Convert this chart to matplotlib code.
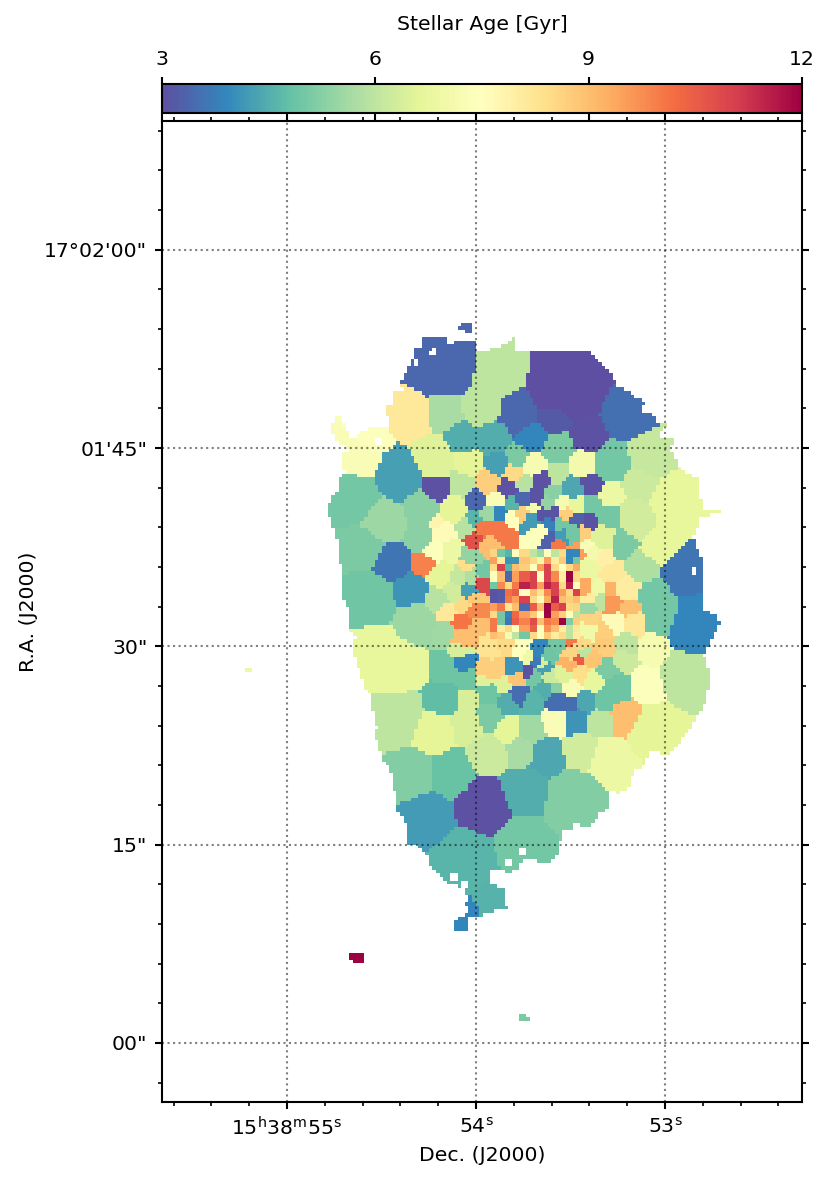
import numpy as np
import matplotlib
matplotlib.use("Agg")
import matplotlib.pyplot as plt
from matplotlib.path import Path

# Voronoi bins of the map, in map pixels: centre, size, age in Gyr
bin_x = [440, 498, 410, 443, 482, 462, 492, 533, 517, 360, 372, 398, 433, 467, 435, 460, 487, 497, 517, 513,
         507, 523, 475, 495, 510, 523, 355, 383, 420, 452, 438, 463, 473, 487, 498, 510, 522, 483, 500,
         568, 557, 588, 627, 558, 650, 640, 612, 582, 533, 558, 542, 572, 592, 612, 553, 535, 592, 562, 575,
         548, 533, 610, 635, 677, 543, 553, 566, 577, 590, 548, 530, 560,
         363, 370, 420, 393, 423, 408, 415, 437, 440, 452, 433, 442, 468, 465, 457, 470, 468, 453, 445, 462,
         473, 473, 462, 475, 442, 463, 473, 486, 481, 482,
         393, 377, 443, 463, 467, 440, 467, 395, 487, 497, 483, 488, 505, 488, 518, 512, 528, 517, 502, 432, 467, 460,
         683, 693, 660, 652, 642, 623, 660, 635, 603, 628, 610, 613, 630, 635, 615, 612, 603, 590, 595, 587,
         578, 585, 548, 556, 563, 540, 572, 583, 598, 600, 588, 588, 590, 590, 603, 570, 580, 627, 653, 603,
         560, 570, 582, 580, 568, 592, 607, 580, 607, 623, 592, 618, 647, 683, 603, 585, 558, 572, 575, 627,
         600, 555, 572, 545, 555, 533, 532, 563, 550, 542, 547, 537, 538, 545, 527, 505, 520, 490, 653,
         488, 520, 505, 532, 547, 580, 610, 410, 452, 483, 523, 575, 427, 463, 520, 488, 470, 458,
         460, 357, 524, 248]
bin_y = [363, 370, 413, 410, 405, 438, 437, 438, 412, 460, 441, 477, 460, 463, 487, 483, 483, 463, 457, 473,
         488, 483, 500, 500, 503, 498, 497, 520, 508, 510, 523, 525, 517, 513, 512, 517, 513, 528, 530,
         385, 415, 435, 413, 448, 457, 483, 463, 463, 465, 472, 480, 487, 485, 495, 492, 497, 507, 502, 505,
         503, 508, 517, 517, 500, 513, 513, 513, 520, 522, 524, 520, 524,
         547, 600, 538, 563, 563, 590, 623, 600, 575, 550, 550, 530, 555, 567, 578, 577, 592, 592, 612, 605,
         598, 612, 622, 625, 632, 638, 543, 545, 583, 573,
         667, 647, 670, 663, 680, 700, 700, 715, 670, 667, 680, 695, 703, 717, 693, 667, 675, 680, 687, 730, 725, 650,
         570, 627, 617, 597, 567, 542, 547, 527, 537, 590, 590, 603, 607, 623, 623, 573, 557, 570, 553, 545,
         552, 533, 540, 543, 535, 533, 533, 588, 588, 600, 610, 600, 618, 630, 632, 642, 645, 643, 648, 645,
         645, 653, 652, 660, 665, 660, 650, 675, 670, 660, 682, 690, 687, 677, 702, 702, 703, 705, 720, 717,
         720, 722, 688, 690, 688, 702, 678, 675, 677, 663, 657, 653, 662, 668, 655, 645, 650, 650, 730,
         755, 753, 732, 730, 757, 753, 763, 777, 777, 808, 792, 800, 820, 857, 843, 898, 908, 925,
         326, 957, 1017, 670]
bin_r = [35, 25, 22, 19, 20, 15, 15, 14, 19, 20, 14, 24, 20, 13, 15, 12, 11, 10, 10, 9,
         9, 8, 9, 8, 6, 7, 25, 22, 18, 14, 10, 8, 7, 6, 6, 5, 5, 6, 6,
         38, 18, 18, 25, 16, 24, 20, 20, 14, 11, 11, 9, 10, 11, 13, 8, 7, 9, 7, 7,
         6, 5, 12, 19, 28, 5, 5, 6, 6, 8, 5, 5, 5,
         20, 25, 15, 18, 12, 17, 20, 12, 12, 10, 12, 12, 9, 6, 9, 6, 7, 10, 10, 7,
         5, 6, 8, 5, 10, 9, 7, 5, 5, 5,
         30, 22, 12, 9, 10, 17, 11, 28, 9, 7, 7, 10, 9, 13, 8, 6, 5, 6, 6, 20, 15, 8,
         20, 25, 18, 16, 15, 13, 18, 12, 12, 12, 7, 8, 10, 12, 9, 10, 8, 7, 7, 6,
         5, 7, 5, 4, 5, 6, 7, 7, 6, 6, 6, 5, 6, 7, 8, 5, 6, 10, 14, 7,
         4, 6, 5, 5, 6, 7, 7, 8, 9, 10, 9, 13, 16, 23, 10, 11, 10, 7, 12, 17,
         12, 12, 8, 7, 6, 8, 6, 7, 6, 5, 4, 4, 4, 5, 4, 6, 6, 7, 25,
         18, 14, 11, 11, 17, 17, 22, 24, 22, 29, 24, 29, 28, 32, 26, 14, 7, 8,
         6, 6, 5, 5]
bin_age = [3.4, 6.0, 8.1, 5.7, 6.0, 4.5, 4.5, 3.9, 3.4, 7.3, 7.4, 4.3, 6.5, 6.6, 3.05, 6.0, 8.7, 4.3, 5.1, 8.5,
           3.05, 5.9, 3.4, 7.3, 4.6, 3.4, 5.0, 5.5, 5.3, 6.6, 7.8, 5.9, 4.6, 5.5, 3.9, 7.5, 8.7, 10, 10,
           3.0, 3.2, 3.05, 3.55, 5.1, 6.1, 6.2, 5.0, 7.1, 7.2, 6.0, 3.05, 4.4, 3.1, 6.9, 5.3, 3.1, 5.0, 7.2, 6.7,
           5.4, 7.1, 5.0, 6.3, 6.7, 3.1, 3.1, 8.7, 3.3, 3.1, 3.8, 4.2, 5.0,
           5.1, 4.95, 5.3, 3.6, 9.9, 4.1, 5.5, 5.9, 6.6, 6.9, 7.4, 7.6, 5.4, 8.4, 6.1, 5.8, 4.3, 6.3, 8.1, 8.5,
           8.8, 9.8, 10.1, 9.0, 5.6, 9.0, 10.7, 9.0, 10.9, 5.0,
           6.7, 6.7, 4.9, 3.9, 4.9, 4.75, 6.4, 6.0, 8.7, 8.7, 6.5, 4.9, 4.5, 5.1, 3.5, 4.1, 3.1, 8.9, 6.5, 6.6, 6.4, 6.4,
           3.6, 3.9, 5.0, 5.0, 5.8, 5.1, 6.7, 6.3, 6.5, 8.0, 9.2, 9.6, 9.0, 8.2, 7.6, 8.1, 7.9, 6.8, 7.1, 7.3,
           9.5, 8.7, 3.3, 10, 4.2, 7.4, 5.0, 9.3, 7.0, 6.0, 5.5, 8.0, 8.6, 7.0, 8.7, 10, 8.5, 6.0, 7.2, 8.8,
           5.0, 8.6, 6.0, 10.5, 9.2, 8.9, 8.7, 8.4, 5.1, 6.2, 6.7, 4.9, 7.4, 6.0, 4.9, 4.4, 3.5, 3.5, 4.1, 9.0,
           6.0, 7.3, 7.3, 4.5, 5.3, 4.6, 5.0, 6.5, 6.2, 6.4, 4.9, 3.9, 3.7, 4.3, 7.0, 8.5, 7.5, 8.3, 6.6,
           6.2, 5.7, 6.6, 5.6, 4.4, 6.3, 6.9, 5.2, 4.85, 3.05, 4.5, 5.2, 4.2, 4.6, 5.0, 4.55, 3.9, 3.9,
           3.4, 12, 5.1, 6.9]

# small bins in the crowded centre, rows from top to bottom
centre_ages = [[8.6, 5.0, 4.6, 7.5, 8.5, 6.0, 5.5, 7.5, 6.0, 8.5, 3.9, 3.9],
               [9.5, 8.0, 4.1, 4.1, 8.9, 8.5, 7.0, 9.5, 8.0, 8.8, 3.9, 5.0],
               [8.5, 11., 4.6, 9.0, 8.7, 7.5, 9.5, 11., 8.5, 7.5, 8.5, 9.3],
               [7.5, 9.0, 3.4, 9.5, 10.5, 11., 7.5, 11., 9.8, 8.0, 12., 8.5],
               [5.0, 9.8, 8.5, 10., 11.5, 11., 9.5, 11.5, 11., 8.5, 11.5, 7.5],
               [3.1, 3.2, 10.2, 10.5, 7.5, 9.0, 8.3, 9.8, 11., 9.5, 8.5, 11.],
               [3.1, 3.2, 10., 9.5, 11., 8.5, 7.6, 9.3, 11.5, 9.0, 8.7, 9.0],
               [9.5, 10., 8.2, 9.0, 3.4, 10.5, 9.0, 12., 10.5, 11., 8.5, 8.6],
               [8.5, 5.0, 3.8, 10.3, 9.5, 8.8, 7.5, 12., 9.5, 8.7, 7.5, 6.0],
               [10., 5.0, 3.6, 10.5, 9.9, 10.8, 9.0, 10., 9.8, 12., 5.2, 8.7],
               [10., 8.0, 8.5, 7.5, 9.5, 10.5, 7.5, 9.7, 9.0, 8.0, 6.0, 8.2],
               [9.0, 8.7, 7.2, 6.0, 5.0, 8.5, 7.5, 8.8, 8.0, 8.5, 6.0, 8.0]]
centre_x0, centre_y0, centre_step = 490, 550, 7.5

# outline of the detected galaxy, clockwise from the top
outline_x = [476, 457, 448, 448, 427, 422, 420, 415, 415, 410, 408, 403, 400, 402, 393, 393, 385, 388, 390, 368,
             350, 347, 340, 335, 330, 338, 350, 343, 343, 345, 338, 337, 327, 330, 335, 334, 340, 340, 343, 343,
             350, 350, 355, 353, 357, 363, 365, 370, 372, 377, 373, 377, 380, 383, 390, 392, 397, 395, 402, 407,
             408, 420, 427, 428, 437, 448, 462, 468, 465, 468, 452, 453, 466, 468, 477, 482, 483, 507, 502, 490,
             492, 507, 517, 523, 540, 550, 558, 557, 563, 563, 590, 598, 608, 607, 617, 627, 635, 640, 650, 668,
             685, 700, 705, 710, 705, 703, 713, 720, 712, 700, 703, 703, 697, 692, 697, 697, 702, 693, 710, 723,
             702, 700, 697, 697, 685, 677, 668, 677, 667, 655, 667, 655, 655, 648, 640, 643, 635, 627, 617, 610,
             600, 590, 563, 553, 525, 520, 517, 513, 505, 487, 477]
outline_y = [340, 340, 345, 335, 337, 338, 347, 350, 357, 360, 368, 378, 380, 390, 393, 407, 407, 420, 427, 427,
             440, 430, 415, 418, 430, 443, 450, 453, 467, 475, 477, 490, 507, 520, 530, 533, 543, 563, 583, 600,
             610, 630, 635, 653, 667, 680, 690, 693, 710, 730, 733, 740, 750, 760, 768, 783, 800, 808, 817, 827,
             843, 848, 857, 865, 873, 883, 887, 898, 902, 913, 920, 932, 932, 917, 915, 917, 912, 910, 888, 883,
             868, 873, 868, 858, 862, 863, 855, 847, 837, 830, 827, 815, 807, 790, 793, 788, 770, 770, 750, 755,
             735, 710, 700, 680, 660, 655, 637, 622, 613, 607, 590, 563, 550, 538, 527, 530, 523, 520, 515, 512,
             510, 497, 490, 477, 473, 463, 448, 440, 438, 435, 423, 423, 418, 413, 413, 403, 397, 392, 387, 373,
             362, 353, 353, 350, 353, 352, 352, 338, 345, 350, 353]

# separate detections around the galaxy
island_top_x = [457, 463, 466, 472, 472, 457]
island_top_y = [327, 322, 322, 325, 332, 331]
island_red_x = [350, 357, 364, 364, 358, 351]
island_red_y = [954, 951, 955, 964, 965, 958]
island_green_x = [519, 530, 530, 519]
island_green_y = [1015, 1016, 1020, 1020]
island_pale_x = [244, 253, 253, 244]
island_pale_y = [669, 669, 673, 673]

# undetected spaxels inside the outline
hole_x = [433, 416, 378, 453, 465, 575, 522, 693, 697, 508, 492]
hole_y = [353, 362, 442, 877, 884, 825, 851, 572, 545, 862, 872]

ra_major = [55, 54, 53]
ra_labels = [r"15$^{\mathrm{h}}$38$^{\mathrm{m}}$55$^{\mathrm{s}}$", r"54$^{\mathrm{s}}$", r"53$^{\mathrm{s}}$"]
dec_major = [120, 105, 90, 75, 60]
dec_labels = ["17°02'00\"", "01'45\"", "30\"", "15\"", "00\""]
cbar_ticks = [3, 6, 9, 12]


def ra_to_map(sec):
    return 287 + (55 - np.asarray(sec, dtype=float)) * 189


def dec_to_map(arcsec):
    return 1043 - (np.asarray(arcsec, dtype=float) - 60) * 13.22


plt.rcParams["font.size"] = 9.8
plt.rcParams["axes.linewidth"] = 1.0
plt.rcParams["xtick.major.width"] = 1.0
plt.rcParams["ytick.major.width"] = 1.0
plt.rcParams["xtick.minor.width"] = 0.8
plt.rcParams["ytick.minor.width"] = 0.8

W, H, dpi = 830, 1182, 150
fig = plt.figure(figsize=(W / dpi, H / dpi), dpi=dpi)


def axes_px(x0, y0, x1, y1):
    return fig.add_axes([x0 / W, 1 - y1 / H, (x1 - x0) / W, (y1 - y0) / H])


ax = axes_px(162, 121, 802, 1102)
cax = axes_px(162, 84, 802, 113)

# fill the map pixels
px = 3.6
xs = np.arange(162, 802, px) + px / 2
ys = np.arange(121, 1102, px) + px / 2
gx, gy = np.meshgrid(xs, ys)
bx, by, br, ba = [np.array(v, dtype=float) for v in (bin_x, bin_y, bin_r, bin_age)]
dist = np.hypot(gx[..., None] - bx, gy[..., None] - by) - br
ages = ba[np.argmin(dist, axis=2)]

centre = np.array(centre_ages)
ci = np.floor((gx - centre_x0) / centre_step).astype(int)
cj = np.floor((gy - centre_y0) / centre_step).astype(int)
inside = (ci >= 0) & (ci < centre.shape[1]) & (cj >= 0) & (cj < centre.shape[0])
ages[inside] = centre[cj[inside], ci[inside]]

pts = np.column_stack([gx.ravel(), gy.ravel()])
mask = np.zeros(len(pts), dtype=bool)
for ox, oy in [(outline_x, outline_y), (island_top_x, island_top_y), (island_red_x, island_red_y),
               (island_green_x, island_green_y), (island_pale_x, island_pale_y)]:
    mask |= Path(np.column_stack([ox, oy])).contains_points(pts)
mask = mask.reshape(gx.shape)
for hx, hy in zip(hole_x, hole_y):
    mask[np.hypot(gx - hx, gy - hy) < 3.5] = False
ages = np.ma.masked_where(~mask, ages)

im = ax.imshow(ages, cmap="Spectral_r", vmin=3, vmax=12, origin="upper", interpolation="nearest",
               extent=[162, 162 + px * len(xs), 121 + px * len(ys), 121], aspect="auto")

ax.set_xticks(ra_to_map(ra_major))
ax.set_xticklabels(ra_labels)
ax.set_yticks(dec_to_map(dec_major))
ax.set_yticklabels(dec_labels)
ax.set_xticks(ra_to_map(np.arange(52.2, 55.8, 0.2)), minor=True)
ax.set_yticks(dec_to_map(np.arange(57, 132, 3)), minor=True)
ax.set_xlim(162, 802)
ax.set_ylim(1102, 121)
ax.tick_params(which="both", top=True, right=True)
ax.grid(True, which="major", color="k", ls=":", lw=1, alpha=0.5)
ax.set_axisbelow(False)
ax.set_xlabel("Dec. (J2000)", labelpad=3)
ax.set_ylabel("R.A. (J2000)", labelpad=3)

cb = fig.colorbar(im, cax=cax, orientation="horizontal", ticks=cbar_ticks)
cax.tick_params(top=True, bottom=True, labeltop=True, labelbottom=False)
cax.xaxis.set_label_position("top")
cb.set_label("Stellar Age [Gyr]", labelpad=10)

fig.savefig("out.png", dpi=dpi)
